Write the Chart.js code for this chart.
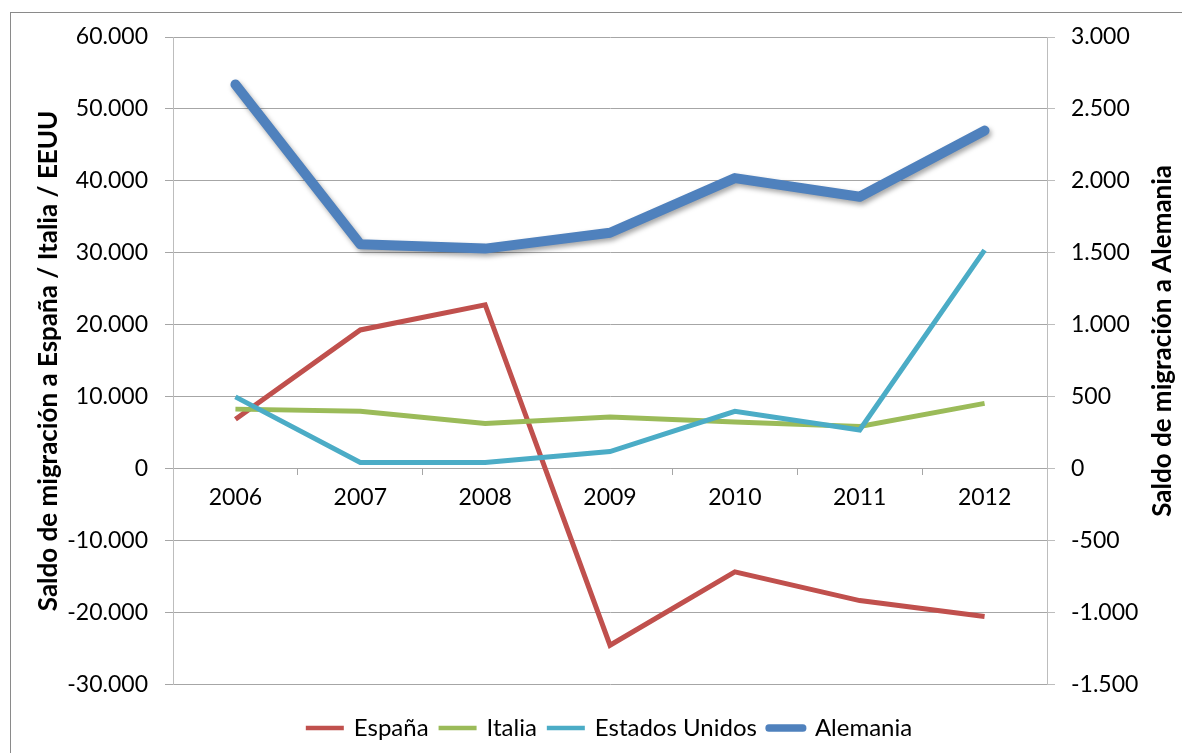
<!DOCTYPE html>
<html lang="es">

<head>
    <meta charset="UTF-8">
    <title>Saldo de migración</title>
    <style>
        body {
            margin: 0;
            background: #fff;
            overflow: hidden;
        }

        .frame {
            position: absolute;
            left: 10px;
            top: 12px;
            width: 1400px;
            height: 1000px;
            border: 1px solid #8a8a8a;
        }

        #myChart {
            position: absolute;
            left: 0;
            top: 0;
        }
    </style>
</head>

<body>
    <div class="frame"></div>
    <canvas id="myChart" width="1182" height="753"></canvas>
    <script src="https://cdn.jsdelivr.net/npm/chart.js@4.4.0/dist/chart.umd.min.js"></script>
    <script>
        // datos
        const years = ['2006', '2007', '2008', '2009', '2010', '2011', '2012'];
        const espana = [6900, 19300, 22800, -24500, -14300, -18300, -20500];
        const italia = [8300, 8000, 6300, 7200, 6500, 5900, 9100];
        const eeuu = [10000, 900, 900, 2400, 8000, 5400, 30400];
        const alemania = [2670, 1560, 1530, 1640, 2020, 1890, 2350];

        const leftTitle = 'Saldo de migración a España / Italia / EEUU';
        const rightTitle = 'Saldo de migración a Alemania';

        const fontFamily = 'Lato, "Open Sans", sans-serif';

        // 60000 -> "60.000"
        const fmt = v => {
            let s = String(Math.abs(v)).replace(/\B(?=(\d{3})+(?!\d))/g, '.');
            return v < 0 ? '-' + s : s;
        };

        // sombra para la linea gruesa
        const shadowPlugin = {
            id: 'shadow',
            beforeDatasetDraw(chart, args) {
                if (args.index === 3) {
                    const c = chart.ctx;
                    c.save();
                    c.shadowColor = 'rgba(0,0,0,0.35)';
                    c.shadowBlur = 5;
                    c.shadowOffsetX = 2;
                    c.shadowOffsetY = 3;
                }
            },
            afterDatasetDraw(chart, args) {
                if (args.index === 3) chart.ctx.restore();
            }
        };

        // titulo del eje derecho, leido de abajo hacia arriba como el izquierdo
        const rightTitlePlugin = {
            id: 'rightTitle',
            afterDraw(chart) {
                const c = chart.ctx;
                const area = chart.chartArea;
                c.save();
                c.translate(1163, (area.top + area.bottom) / 2 - 20);
                c.rotate(-Math.PI / 2);
                c.font = 'bold 26px ' + fontFamily;
                c.fillStyle = '#000';
                c.textAlign = 'center';
                c.textBaseline = 'middle';
                c.fillText(rightTitle, 0, 0);
                c.restore();
            }
        };

        const ctx = document.getElementById('myChart').getContext('2d');
        const chart = new Chart(ctx, {
            type: 'line',
            data: {
                labels: years,
                datasets: [{
                    label: 'España',
                    data: espana,
                    borderColor: '#C0504D',
                    backgroundColor: '#C0504D',
                    borderWidth: 5,
                    yAxisID: 'y',
                    order: 4
                }, {
                    label: 'Italia',
                    data: italia,
                    borderColor: '#9BBB59',
                    backgroundColor: '#9BBB59',
                    borderWidth: 5,
                    yAxisID: 'y',
                    order: 3
                }, {
                    label: 'Estados Unidos',
                    data: eeuu,
                    borderColor: '#4BACC6',
                    backgroundColor: '#4BACC6',
                    borderWidth: 5,
                    yAxisID: 'y',
                    order: 2
                }, {
                    label: 'Alemania',
                    data: alemania,
                    borderColor: '#4F81BD',
                    backgroundColor: '#4F81BD',
                    borderWidth: 10,
                    borderCapStyle: 'round',
                    borderJoinStyle: 'round',
                    yAxisID: 'y2',
                    order: 1
                }]
            },
            options: {
                responsive: false,
                animation: false,
                events: [],
                elements: {
                    point: { radius: 0 },
                    line: { tension: 0 }
                },
                layout: {
                    padding: { left: 0, right: 0, top: 37, bottom: 3 }
                },
                plugins: {
                    tooltip: { enabled: false },
                    legend: {
                        position: 'bottom',
                        fullSize: false,
                        title: {
                            display: true,
                            text: '',
                            font: { size: 1 },
                            padding: { top: 18, bottom: 0 }
                        },
                        labels: {
                            color: '#000',
                            font: { family: fontFamily, size: 24 },
                            boxWidth: 34,
                            boxHeight: 0.5,
                            padding: 12,
                            sort: (a, b) => a.datasetIndex - b.datasetIndex,
                            generateLabels(chart) {
                                const items = Chart.defaults.plugins.legend.labels.generateLabels(chart);
                                items.forEach(it => {
                                    it.lineWidth = it.datasetIndex === 3 ? 7 : 4;
                                    it.lineCap = 'round';
                                });
                                return items;
                            }
                        }
                    }
                },
                scales: {
                    x: {
                        type: 'category',
                        position: { y: 0 },
                        offset: true,
                        grid: {
                            display: true,
                            offset: true,
                            drawOnChartArea: false,
                            tickLength: 6,
                            color: '#a6a6a6'
                        },
                        border: { display: true, color: '#a6a6a6' },
                        ticks: {
                            color: '#000',
                            font: { family: fontFamily, size: 23 },
                            padding: 9,
                            maxRotation: 0
                        }
                    },
                    y: {
                        position: 'left',
                        min: -30000,
                        max: 60000,
                        ticks: {
                            stepSize: 10000,
                            color: '#000',
                            font: { family: fontFamily, size: 23 },
                            padding: 17,
                            callback: v => fmt(v)
                        },
                        grid: { color: '#a6a6a6', tickLength: 8 },
                        border: { color: '#bdbdbd' },
                        title: {
                            display: true,
                            text: leftTitle,
                            color: '#000',
                            font: { family: fontFamily, size: 26, weight: 'bold' },
                            padding: { top: 33, bottom: 0 }
                        },
                        afterFit(scale) { scale.width = 173; }
                    },
                    y2: {
                        position: 'right',
                        min: -1500,
                        max: 3000,
                        ticks: {
                            stepSize: 500,
                            color: '#000',
                            font: { family: fontFamily, size: 23 },
                            padding: 16,
                            callback: v => fmt(v)
                        },
                        grid: { drawOnChartArea: false, color: '#bdbdbd', tickLength: 8 },
                        border: { color: '#bdbdbd' },
                        afterFit(scale) { scale.width = 135; }
                    }
                }
            },
            plugins: [shadowPlugin, rightTitlePlugin]
        });
    </script>
</body>

</html>
